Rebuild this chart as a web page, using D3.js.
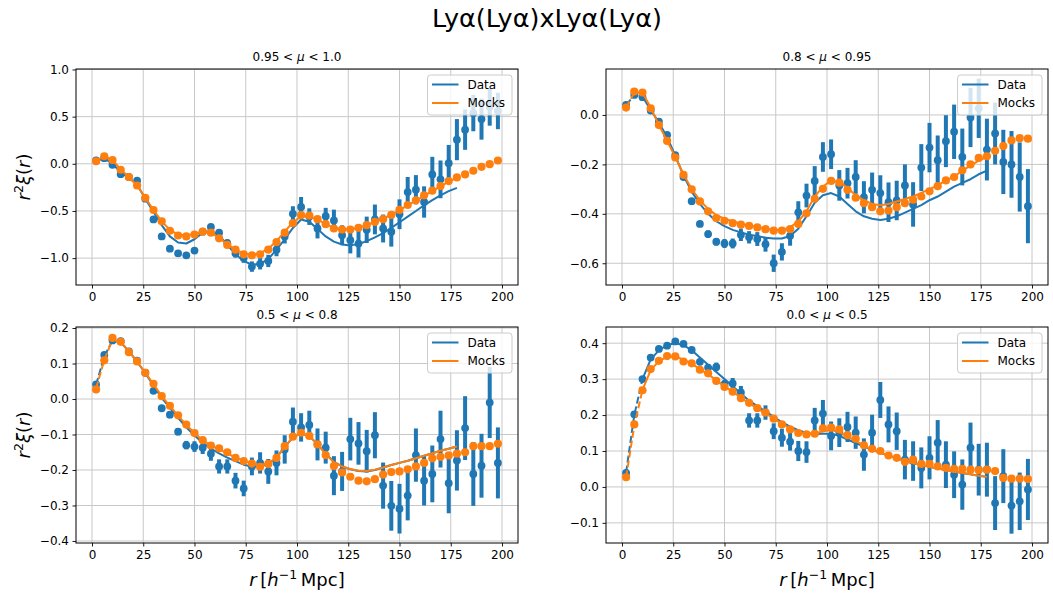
<!DOCTYPE html>
<html><head><meta charset="utf-8">
<script src="https://cdn.jsdelivr.net/npm/d3@7"></script>
<style>body{margin:0;background:#fff} text{font-family:"DejaVu Sans",sans-serif;fill:#000}</style>
</head><body><svg id="c" width="1053" height="596"></svg>
<script>
// ---------- data ----------
const r = [2,6,10,14,18,22,26,30,34,38,42,46,50,54,58,62,66,70,74,78,82,86,90,94,98,
           102,106,110,114,118,122,126,130,134,138,142,146,150,154,158,162,166,170,174,178,182,186,190,194,198];
const rModel = [2,6,10,14,18,22,26,30,34,38,42,46,50,54,58,62,66,70,74,78,82,86,90,94,98,
           102,106,110,114,118,122,126,130,134,138,142,146,150,154,158,162,166,170,174,178];
const xTicks = [0,25,50,75,100,125,150,175,200];
const panelTitles = [["0.95","1.0"],["0.8","0.95"],["0.5","0.8"],["0.0","0.5"]];
const legendLabels = ["Data","Mocks"];
const figTitle = "Lyα(Lyα)xLyα(Lyα)";

// panel 1 : 0.95 < mu < 1.0
const data1 = [0.035,0.06,-0.01,-0.11,-0.14,-0.18,-0.37,-0.59,-0.77,-0.90,-0.95,-0.97,-0.92,-0.72,-0.67,-0.73,-0.84,-0.95,-1.00,-1.09,-1.06,-1.03,-0.91,-0.77,-0.53,
  -0.457,-0.56,-0.686,-0.555,-0.60,-0.757,-0.81,-0.846,-0.70,-0.59,-0.686,-0.72,-0.535,-0.30,-0.275,-0.405,-0.113,-0.165,0.007,0.256,0.362,0.538,0.474,0.604,0.56];
const err1 = [0.008,0.008,0.01,0.01,0.012,0.012,0.015,0.015,0.018,0.02,0.02,0.022,0.025,0.028,0.03,0.035,0.04,0.045,0.05,0.055,0.06,0.065,0.07,0.075,0.08,
  0.105,0.088,0.105,0.088,0.114,0.105,0.14,0.148,0.14,0.158,0.148,0.158,0.158,0.16,0.155,0.166,0.187,0.2,0.193,0.218,0.214,0.193,0.218,0.2,0.193];
const mocks1 = [0.027,0.08,0.04,-0.063,-0.14,-0.23,-0.36,-0.49,-0.61,-0.71,-0.76,-0.77,-0.75,-0.72,-0.73,-0.79,-0.86,-0.91,-0.96,-0.97,-0.96,-0.91,-0.83,-0.73,-0.63,
  -0.545,-0.549,-0.587,-0.64,-0.686,-0.697,-0.697,-0.679,-0.651,-0.616,-0.587,-0.542,-0.489,-0.437,-0.387,-0.334,-0.285,-0.236,-0.183,-0.145,-0.113,-0.074,-0.032,-0.004,0.035];
const modelData1 = [0.03,0.06,0.0,-0.09,-0.15,-0.22,-0.37,-0.51,-0.65,-0.77,-0.835,-0.845,-0.80,-0.73,-0.71,-0.76,-0.86,-0.96,-1.03,-1.07,-1.06,-1.01,-0.91,-0.80,-0.68,
  -0.59,-0.615,-0.69,-0.77,-0.825,-0.855,-0.865,-0.85,-0.82,-0.78,-0.735,-0.68,-0.62,-0.56,-0.50,-0.44,-0.385,-0.335,-0.29,-0.255];
const modelMocks1 = [0.03,0.08,0.04,-0.06,-0.14,-0.23,-0.36,-0.49,-0.61,-0.70,-0.75,-0.76,-0.745,-0.72,-0.73,-0.785,-0.855,-0.91,-0.95,-0.965,-0.95,-0.90,-0.82,-0.72,-0.62,
  -0.56,-0.56,-0.59,-0.64,-0.68,-0.695,-0.695,-0.68,-0.65,-0.615,-0.58,-0.54,-0.49,-0.44,-0.39,-0.34,-0.29,-0.24,-0.19,-0.15];
const yTicks1 = [-1.0,-0.5,0.0,0.5,1.0];

// panel 2 : 0.8 < mu < 0.95
const data2 = [0.041,0.081,0.072,0.018,-0.027,-0.081,-0.163,-0.251,-0.349,-0.441,-0.482,-0.513,-0.520,-0.52,-0.485,-0.495,-0.502,-0.523,-0.60,-0.554,-0.489,-0.394,-0.326,
  -0.267,-0.170,-0.159,-0.285,-0.276,-0.251,-0.333,-0.303,-0.316,-0.353,-0.346,-0.285,-0.362,-0.213,-0.132,-0.183,-0.106,-0.068,-0.170,-0.010,0.027,-0.140,-0.075,-0.190,-0.200,-0.251,-0.369];
const err2 = [0.008,0.008,0.008,0.008,0.01,0.01,0.01,0.012,0.012,0.012,0.015,0.015,0.018,0.02,0.025,0.025,0.028,0.03,0.035,0.035,0.04,0.045,0.048,
  0.06,0.06,0.06,0.062,0.062,0.068,0.065,0.07,0.072,0.08,0.08,0.085,0.09,0.095,0.1,0.1,0.105,0.11,0.115,0.12,0.12,0.125,0.125,0.13,0.135,0.14,0.15];
const mocks2 = [0.030,0.095,0.091,0.027,-0.041,-0.105,-0.172,-0.242,-0.301,-0.350,-0.39,-0.417,-0.428,-0.438,-0.444,-0.449,-0.455,-0.462,-0.468,-0.468,-0.462,-0.441,-0.398,
  -0.339,-0.299,-0.267,-0.274,-0.303,-0.335,-0.357,-0.373,-0.390,-0.387,-0.373,-0.357,-0.343,-0.330,-0.309,-0.288,-0.265,-0.251,-0.224,-0.200,-0.174,-0.167,-0.145,-0.126,-0.103,-0.094,-0.096];
const modelData2 = [0.04,0.08,0.075,0.02,-0.03,-0.09,-0.165,-0.245,-0.31,-0.36,-0.40,-0.43,-0.45,-0.465,-0.475,-0.485,-0.49,-0.497,-0.50,-0.50,-0.49,-0.46,-0.41,-0.355,-0.325,
  -0.316,-0.33,-0.36,-0.39,-0.41,-0.42,-0.425,-0.42,-0.41,-0.395,-0.38,-0.365,-0.345,-0.33,-0.31,-0.29,-0.275,-0.26,-0.24,-0.225];
const modelMocks2 = [0.03,0.09,0.09,0.03,-0.04,-0.105,-0.17,-0.24,-0.30,-0.345,-0.38,-0.405,-0.42,-0.43,-0.44,-0.447,-0.453,-0.46,-0.465,-0.465,-0.455,-0.43,-0.39,-0.33,-0.29,
  -0.265,-0.27,-0.295,-0.325,-0.345,-0.36,-0.365,-0.36,-0.35,-0.34,-0.33,-0.315,-0.30,-0.285,-0.265,-0.25,-0.225,-0.205,-0.185,-0.17];
const yTicks2 = [-0.6,-0.4,-0.2,0.0];

// panel 3 : 0.5 < mu < 0.8
const data3 = [0.041,0.124,0.165,0.163,0.134,0.108,0.074,0.023,-0.026,-0.044,-0.092,-0.13,-0.134,-0.137,-0.154,-0.19,-0.19,-0.23,-0.252,-0.19,-0.18,-0.204,-0.18,-0.142,-0.064,
  -0.08,-0.073,-0.128,-0.137,-0.216,-0.204,-0.113,-0.125,-0.147,-0.102,-0.244,-0.301,-0.309,-0.272,-0.158,-0.23,-0.211,-0.113,-0.237,-0.173,-0.082,-0.211,-0.188,-0.01,-0.18];
const err3 = [0.004,0.004,0.005,0.005,0.005,0.006,0.006,0.007,0.008,0.01,0.01,0.012,0.015,0.018,0.02,0.02,0.02,0.022,0.022,0.025,0.03,0.035,0.035,0.04,0.04,
  0.04,0.04,0.045,0.045,0.055,0.055,0.06,0.06,0.06,0.065,0.065,0.07,0.07,0.07,0.075,0.07,0.08,0.08,0.085,0.085,0.09,0.09,0.09,0.1,0.1];
const mocks3 = [0.027,0.109,0.172,0.161,0.132,0.106,0.074,0.043,0.008,-0.019,-0.046,-0.072,-0.096,-0.116,-0.131,-0.139,-0.150,-0.166,-0.175,-0.182,-0.191,-0.183,-0.166,-0.133,-0.106,
  -0.095,-0.104,-0.128,-0.158,-0.189,-0.207,-0.219,-0.230,-0.232,-0.226,-0.213,-0.206,-0.204,-0.198,-0.190,-0.180,-0.167,-0.163,-0.159,-0.154,-0.150,-0.133,-0.133,-0.133,-0.126];
const modelData3 = [0.04,0.12,0.165,0.16,0.135,0.105,0.073,0.038,0.003,-0.025,-0.053,-0.08,-0.103,-0.123,-0.14,-0.153,-0.165,-0.175,-0.185,-0.19,-0.19,-0.183,-0.165,-0.135,-0.108,
  -0.097,-0.104,-0.127,-0.154,-0.177,-0.19,-0.198,-0.203,-0.204,-0.2,-0.193,-0.186,-0.18,-0.174,-0.167,-0.16,-0.153,-0.146,-0.14,-0.134];
const modelMocks3 = [0.03,0.11,0.168,0.16,0.134,0.105,0.074,0.042,0.008,-0.02,-0.047,-0.073,-0.096,-0.116,-0.131,-0.142,-0.153,-0.165,-0.174,-0.181,-0.186,-0.181,-0.165,-0.135,-0.108,
  -0.096,-0.104,-0.128,-0.155,-0.178,-0.19,-0.197,-0.202,-0.203,-0.199,-0.193,-0.186,-0.18,-0.174,-0.167,-0.16,-0.153,-0.146,-0.14,-0.134];
const yTicks3 = [-0.4,-0.3,-0.2,-0.1,0.0,0.1,0.2];

// panel 4 : 0.0 < mu < 0.5
const data4 = [0.039,0.202,0.30,0.36,0.384,0.393,0.405,0.398,0.381,0.348,0.332,0.334,0.286,0.288,0.263,0.185,0.185,0.207,0.155,0.137,0.126,0.10,0.097,0.185,0.204,
  0.142,0.151,0.167,0.151,0.09,0.151,0.242,0.174,0.155,0.076,0.072,0.053,0.081,0.123,0.062,0.034,0.0065,0.109,0.048,0.048,-0.045,0.030,-0.052,-0.04,-0.007];
const err4 = [0.005,0.005,0.006,0.006,0.006,0.007,0.007,0.008,0.008,0.009,0.01,0.012,0.012,0.015,0.018,0.02,0.02,0.02,0.022,0.025,0.025,0.028,0.03,0.035,0.038,
  0.04,0.04,0.042,0.045,0.045,0.05,0.05,0.05,0.052,0.055,0.055,0.057,0.06,0.063,0.065,0.065,0.07,0.07,0.072,0.075,0.075,0.075,0.078,0.08,0.085];
const mocks4 = [0.027,0.174,0.269,0.328,0.351,0.364,0.363,0.349,0.344,0.326,0.316,0.295,0.278,0.265,0.247,0.234,0.219,0.207,0.19,0.174,0.160,0.150,0.146,0.148,0.163,
  0.165,0.160,0.144,0.134,0.116,0.106,0.100,0.0875,0.081,0.07,0.076,0.064,0.064,0.057,0.053,0.05,0.05,0.048,0.047,0.048,0.044,0.025,0.023,0.023,0.022];
const modelData4 = [0.04,0.2,0.3,0.355,0.38,0.395,0.40,0.395,0.38,0.36,0.34,0.32,0.30,0.28,0.26,0.24,0.225,0.21,0.195,0.18,0.168,0.158,0.15,0.147,0.148,
  0.148,0.142,0.132,0.122,0.112,0.103,0.095,0.087,0.079,0.072,0.066,0.061,0.056,0.051,0.047,0.043,0.039,0.035,0.031,0.028];
const modelMocks4 = [0.027,0.17,0.27,0.325,0.35,0.362,0.362,0.355,0.343,0.328,0.313,0.297,0.28,0.265,0.248,0.233,0.218,0.205,0.19,0.176,0.163,0.153,0.148,0.148,0.155,
  0.158,0.153,0.14,0.128,0.115,0.104,0.095,0.087,0.079,0.072,0.066,0.061,0.056,0.051,0.047,0.043,0.039,0.035,0.031,0.028];
const yTicks4 = [-0.1,0.0,0.1,0.2,0.3,0.4];

// ---------- layout ----------
const BLUE = "#1f77b4", ORANGE = "#ff7f0e";
const layout = [
  {box:[76,69,518,285],  ydom:[-1.285,1.005], yl:true,  xl:false},
  {box:[606,69,1048,285], ydom:[-0.688,0.186], yl:false, xl:false},
  {box:[76,327,518,543], ydom:[-0.4057,0.2029], yl:true, xl:true},
  {box:[606,327,1048,543], ydom:[-0.156,0.445], yl:false, xl:true}
];
const series = [
  {data:data1, err:err1, mocks:mocks1, md:modelData1, mm:modelMocks1, yt:yTicks1},
  {data:data2, err:err2, mocks:mocks2, md:modelData2, mm:modelMocks2, yt:yTicks2},
  {data:data3, err:err3, mocks:mocks3, md:modelData3, mm:modelMocks3, yt:yTicks3},
  {data:data4, err:err4, mocks:mocks4, md:modelData4, mm:modelMocks4, yt:yTicks4}
];

const svg = d3.select("#c");
svg.append("rect").attr("width",1053).attr("height",596).attr("fill","#fff");
svg.append("text").attr("x",547).attr("y",27).attr("text-anchor","middle")
   .style("font-size","25.5px").text(figTitle);

const fmt = d3.format(".1f");
const DASH_END = 2; // model drawn dashed up to rModel[2]

layout.forEach((L,i)=>{
  const S = series[i];
  const [x0,y0,x1,y1] = L.box;
  const x = d3.scaleLinear().domain([-7.8,207.8]).range([x0,x1]);
  const y = d3.scaleLinear().domain(L.ydom).range([y1,y0]);
  const g = svg.append("g");

  // grid
  g.selectAll(".gx").data(xTicks).enter().append("line")
    .attr("x1",d=>x(d)).attr("x2",d=>x(d)).attr("y1",y0).attr("y2",y1)
    .attr("stroke","#c8c8c8").attr("stroke-width",1);
  g.selectAll(".gy").data(S.yt).enter().append("line")
    .attr("y1",d=>y(d)).attr("y2",d=>y(d)).attr("x1",x0).attr("x2",x1)
    .attr("stroke","#c8c8c8").attr("stroke-width",1);

  // axes
  const ax = d3.axisBottom(x).tickValues(xTicks).tickSize(3.5).tickPadding(3.5).tickFormat(d3.format("d"));
  const gx = g.append("g").attr("transform",`translate(0,${y1})`).call(ax);
  const ay = d3.axisLeft(y).tickValues(S.yt).tickSize(3.5).tickPadding(3.5).tickFormat(fmt);
  const gy = g.append("g").attr("transform",`translate(${x0},0)`).call(ay);
  [gx,gy].forEach(a=>{
    a.select(".domain").remove();
    a.selectAll("text").style("font-size","12px").style("font-family","DejaVu Sans").attr("fill","#000");
    a.selectAll("line").attr("stroke","#000").attr("stroke-width",0.9);
  });

  // data error bars + points
  const pts = r.map((rv,k)=>({r:rv, v:S.data[k], e:S.err[k], m:S.mocks[k]}));
  g.selectAll(".eb").data(pts).enter().append("line")
    .attr("x1",d=>x(d.r)).attr("x2",d=>x(d.r))
    .attr("y1",d=>y(d.v-d.e)).attr("y2",d=>y(d.v+d.e))
    .attr("stroke",BLUE).attr("stroke-width",4);
  g.selectAll(".dp").data(pts).enter().append("circle")
    .attr("cx",d=>x(d.r)).attr("cy",d=>y(d.v)).attr("r",3.9).attr("fill",BLUE);

  const line = d3.line().x(d=>x(d[0])).y(d=>y(d[1]));
  const mdPts = rModel.map((rv,k)=>[rv,S.md[k]]);
  const mmPts = rModel.map((rv,k)=>[rv,S.mm[k]]);
  function drawModel(p,col){
    g.append("path").attr("d",line(p.slice(0,DASH_END+1))).attr("fill","none")
      .attr("stroke",col).attr("stroke-width",2).attr("stroke-dasharray","7,3");
    g.append("path").attr("d",line(p.slice(DASH_END))).attr("fill","none")
      .attr("stroke",col).attr("stroke-width",2).attr("stroke-linejoin","round");
  }
  drawModel(mdPts,BLUE);

  g.selectAll(".mp").data(pts).enter().append("circle")
    .attr("cx",d=>x(d.r)).attr("cy",d=>y(d.m)).attr("r",4.1).attr("fill",ORANGE);
  drawModel(mmPts,ORANGE);

  // spines
  g.append("rect").attr("x",x0).attr("y",y0).attr("width",x1-x0).attr("height",y1-y0)
    .attr("fill","none").attr("stroke","#000").attr("stroke-width",1);

  // subplot title
  const t = panelTitles[i];
  const tt = g.append("text").attr("x",(x0+x1)/2).attr("y",y0-8).attr("text-anchor","middle").style("font-size","12px");
  tt.append("tspan").text(t[0]+" < ");
  tt.append("tspan").style("font-style","italic").text("μ");
  tt.append("tspan").text(" < "+t[1]);

  // legend
  const lx = x1-6-84.5, ly = y0+6;
  const lg = g.append("g");
  lg.append("rect").attr("x",lx).attr("y",ly).attr("width",84.5).attr("height",40).attr("rx",3)
    .attr("fill","#fff").attr("fill-opacity",0.8).attr("stroke","#cccccc").attr("stroke-width",1);
  [[BLUE,legendLabels[0]],[ORANGE,legendLabels[1]]].forEach((e,k)=>{
    const yy = ly+9.5+k*18.5;
    lg.append("line").attr("x1",lx+4.5).attr("x2",lx+31).attr("y1",yy).attr("y2",yy)
      .attr("stroke",e[0]).attr("stroke-width",2);
    lg.append("text").attr("x",lx+40).attr("y",yy+4.3).style("font-size","12px").text(e[1]);
  });

  // axis labels
  if (L.yl){
    const yt = svg.append("text").attr("transform",`translate(30,${(y0+y1)/2}) rotate(-90)`)
      .attr("text-anchor","middle").style("font-size","18px");
    yt.append("tspan").style("font-style","italic").text("r");
    yt.append("tspan").attr("dy",-7).style("font-size","12.5px").text("2");
    yt.append("tspan").attr("dy",7).style("font-style","italic").text("ξ");
    yt.append("tspan").text("(");
    yt.append("tspan").style("font-style","italic").text("r");
    yt.append("tspan").text(")");
  }
  if (L.xl){
    const xt = svg.append("text").attr("x",(x0+x1)/2).attr("y",586).attr("text-anchor","middle").style("font-size","18px");
    xt.append("tspan").style("font-style","italic").text("r");
    xt.append("tspan").text("\u2009[");
    xt.append("tspan").style("font-style","italic").text("h");
    xt.append("tspan").attr("dy",-7).style("font-size","12.5px").text("−1");
    xt.append("tspan").attr("dy",7).text("\u2009Mpc]");
  }
});
</script></body></html>
